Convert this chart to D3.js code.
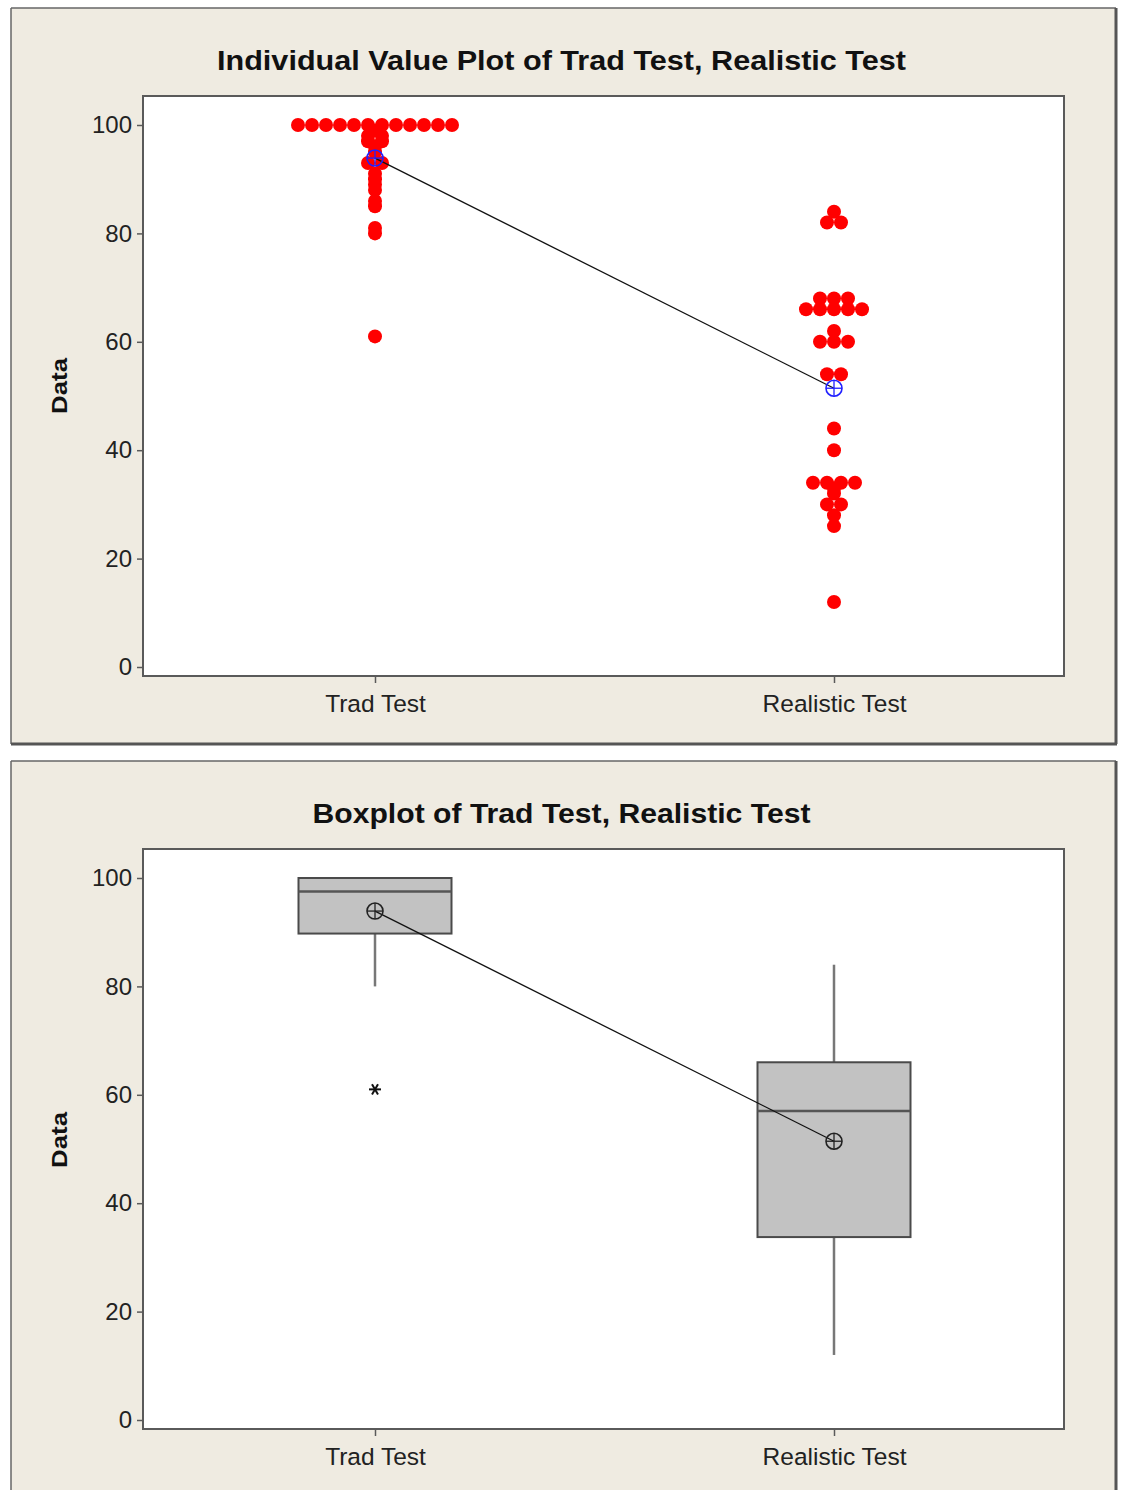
<!DOCTYPE html>
<html>
<head>
<meta charset="utf-8">
<script src="https://cdn.jsdelivr.net/npm/d3@7"></script>
<style>
  html, body { margin: 0; padding: 0; background: #ffffff; }
  svg { display: block; }
  text { font-family: "Liberation Sans", Arial, Helvetica, sans-serif; }
</style>
</head>
<body>
<script>
// ---------------- DATA ----------------
const categories = ["Trad Test", "Realistic Test"];
const tradTest = [100,100,100,100,100,100,100,100,100,100,100,100,
                  99,98,98,97,97,96,95,93,93,91,90,89,88,86,85,81,80,61];
const realisticTest = [84,82,82,68,68,68,66,66,66,66,66,62,60,60,60,
                       54,54,44,40,34,34,34,34,33,32,30,30,28,26,12];
const yTicks = [0,20,40,60,80,100];
const titleTop = "Individual Value Plot of Trad Test, Realistic Test";
const titleBottom = "Boxplot of Trad Test, Realistic Test";
const yLabel = "Data";

// ---------------- SETUP ----------------
const W = 1123, H = 1490;
const svg = d3.select("body").append("svg").attr("width", W).attr("height", H);
const BG = "#EFEBE1";
const FRAME = "#5a5a5a";
const series = [tradTest, realisticTest];

// Minitab-style quartile: position p*(n+1)
function mtQuantile(sorted, p) {
  const n = sorted.length;
  const pos = p * (n + 1);
  const lo = Math.floor(pos);
  if (lo < 1) return sorted[0];
  if (lo >= n) return sorted[n - 1];
  return sorted[lo - 1] + (pos - lo) * (sorted[lo] - sorted[lo - 1]);
}
function stats(arr) {
  const s = arr.slice().sort(d3.ascending);
  const q1 = mtQuantile(s, 0.25), med = mtQuantile(s, 0.5), q3 = mtQuantile(s, 0.75);
  const iqr = q3 - q1;
  const loF = q1 - 1.5 * iqr, hiF = q3 + 1.5 * iqr;
  const inside = s.filter(v => v >= loF && v <= hiF);
  return { q1, med, q3, lo: d3.min(inside), hi: d3.max(inside),
           outliers: s.filter(v => v < loF || v > hiF), mean: d3.mean(s) };
}

function panel(top, bottom) {
  const g = svg.append("g");
  g.append("rect").attr("x", 11).attr("y", top).attr("width", 1105).attr("height", bottom - top)
    .attr("fill", BG);
  g.append("line").attr("x1", 11).attr("x2", 1116).attr("y1", top).attr("y2", top)
    .attr("stroke", "#666").attr("stroke-width", 1.5);
  g.append("line").attr("x1", 11).attr("x2", 11).attr("y1", top).attr("y2", bottom)
    .attr("stroke", "#666").attr("stroke-width", 1.5);
  g.append("line").attr("x1", 1116).attr("x2", 1116).attr("y1", top).attr("y2", bottom)
    .attr("stroke", "#555").attr("stroke-width", 3);
  g.append("line").attr("x1", 11).attr("x2", 1117).attr("y1", bottom).attr("y2", bottom)
    .attr("stroke", "#555").attr("stroke-width", 3);
  return g;
}

function chartFrame(g, plotTop, plotBottom, y0, y100, title, titleY, titleLen, labelY) {
  const x = d3.scalePoint().domain(categories).range([143, 1066]).padding(232 / 459);
  const y = d3.scaleLinear().domain([0, 100]).range([y0, y100]);
  g.append("rect").attr("x", 143).attr("y", plotTop).attr("width", 1064 - 143)
    .attr("height", plotBottom - plotTop).attr("fill", "#ffffff")
    .attr("stroke", FRAME).attr("stroke-width", 2);
  g.append("text").attr("x", 561.5).attr("y", titleY).attr("text-anchor", "middle")
    .attr("font-size", 27).attr("font-weight", "bold").attr("fill", "#111")
    .attr("textLength", titleLen).attr("lengthAdjust", "spacingAndGlyphs").text(title);

  const ya = g.append("g").attr("transform", "translate(143,0)")
    .call(d3.axisLeft(y).tickValues(yTicks).tickSize(6).tickPadding(5));
  ya.select(".domain").remove();
  ya.selectAll("line").attr("stroke", FRAME).attr("stroke-width", 1.5);
  ya.selectAll("text").attr("font-size", 24).attr("fill", "#222")
    .style("font-family", "'Liberation Sans', Arial, sans-serif");

  const xa = g.append("g").attr("transform", `translate(0,${plotBottom})`)
    .call(d3.axisBottom(x).tickSize(7).tickPadding(12));
  xa.select(".domain").remove();
  xa.selectAll("line").attr("stroke", FRAME).attr("stroke-width", 1.5);
  xa.selectAll("text").attr("font-size", 24.5).attr("fill", "#222")
    .style("font-family", "'Liberation Sans', Arial, sans-serif");

  g.append("text").attr("transform", `translate(67,${labelY}) rotate(-90)`)
    .attr("text-anchor", "middle").attr("font-size", 22).attr("font-weight", "bold")
    .attr("fill", "#111").attr("textLength", 56).attr("lengthAdjust", "spacingAndGlyphs")
    .text(yLabel);
  return { x, y };
}

function meanSymbol(g, cx, cy, color, r) {
  g.append("circle").attr("cx", cx).attr("cy", cy).attr("r", r)
    .attr("fill", "none").attr("stroke", color).attr("stroke-width", 1.6);
  g.append("line").attr("x1", cx - r).attr("x2", cx + r).attr("y1", cy).attr("y2", cy)
    .attr("stroke", color).attr("stroke-width", 1.3);
  g.append("line").attr("x1", cx).attr("x2", cx).attr("y1", cy - r).attr("y2", cy + r)
    .attr("stroke", color).attr("stroke-width", 1.3);
}

// ---------------- TOP: Individual value plot ----------------
const g1 = panel(8, 744);
const s1 = chartFrame(g1, 96, 676, 667, 125, titleTop, 70, 689, 386);
const dotGap = 14;
series.forEach((arr, i) => {
  const groups = d3.groups(arr, v => v);
  const pts = [];
  groups.forEach(([v, vals]) => {
    const k = vals.length;
    vals.forEach((_, j) => pts.push({ v, off: (j - (k - 1) / 2) * dotGap }));
  });
  g1.append("g").selectAll("circle").data(pts).join("circle")
    .attr("cx", d => s1.x(categories[i]) + d.off)
    .attr("cy", d => s1.y(d.v))
    .attr("r", 7).attr("fill", "#ff0000");
});
const means = series.map(a => d3.mean(a));
g1.append("path")
  .attr("d", d3.line()(categories.map((c, i) => [s1.x(c), s1.y(means[i])])))
  .attr("stroke", "#111").attr("stroke-width", 1.3).attr("fill", "none");
categories.forEach((c, i) => meanSymbol(g1, s1.x(c), s1.y(means[i]), "#2020ff", 8));

// ---------------- BOTTOM: Boxplot ----------------
const g2 = panel(761, 1500);
const s2 = chartFrame(g2, 849, 1429, 1420, 878, titleBottom, 823, 498, 1140);
const boxW = 153;
series.forEach((arr, i) => {
  const st = stats(arr);
  const cx = s2.x(categories[i]);
  const y = s2.y;
  if (st.hi > st.q3) g2.append("line").attr("x1", cx).attr("x2", cx)
    .attr("y1", y(st.q3)).attr("y2", y(st.hi)).attr("stroke", "#777").attr("stroke-width", 2.5);
  if (st.lo < st.q1) g2.append("line").attr("x1", cx).attr("x2", cx)
    .attr("y1", y(st.q1)).attr("y2", y(st.lo)).attr("stroke", "#777").attr("stroke-width", 2.5);
  g2.append("rect").attr("x", cx - boxW / 2).attr("y", y(st.q3)).attr("width", boxW)
    .attr("height", y(st.q1) - y(st.q3)).attr("fill", "#c2c2c2")
    .attr("stroke", "#4a4a4a").attr("stroke-width", 2);
  g2.append("line").attr("x1", cx - boxW / 2).attr("x2", cx + boxW / 2)
    .attr("y1", y(st.med)).attr("y2", y(st.med)).attr("stroke", "#555").attr("stroke-width", 2.5);
  st.outliers.forEach(v => {
    const oy = y(v), r = 6;
    const gs = g2.append("g").attr("transform", `translate(${cx},${oy})`);
    [0, 60, 120].forEach(a => {
      const rad = a * Math.PI / 180;
      gs.append("line").attr("x1", -r * Math.cos(rad)).attr("y1", -r * Math.sin(rad))
        .attr("x2", r * Math.cos(rad)).attr("y2", r * Math.sin(rad))
        .attr("stroke", "#111").attr("stroke-width", 2);
    });
  });
});
g2.append("path")
  .attr("d", d3.line()(categories.map((c, i) => [s2.x(c), s2.y(means[i])])))
  .attr("stroke", "#111").attr("stroke-width", 1.3).attr("fill", "none");
categories.forEach((c, i) => meanSymbol(g2, s2.x(c), s2.y(means[i]), "#222", 8));
</script>
</body>
</html>
